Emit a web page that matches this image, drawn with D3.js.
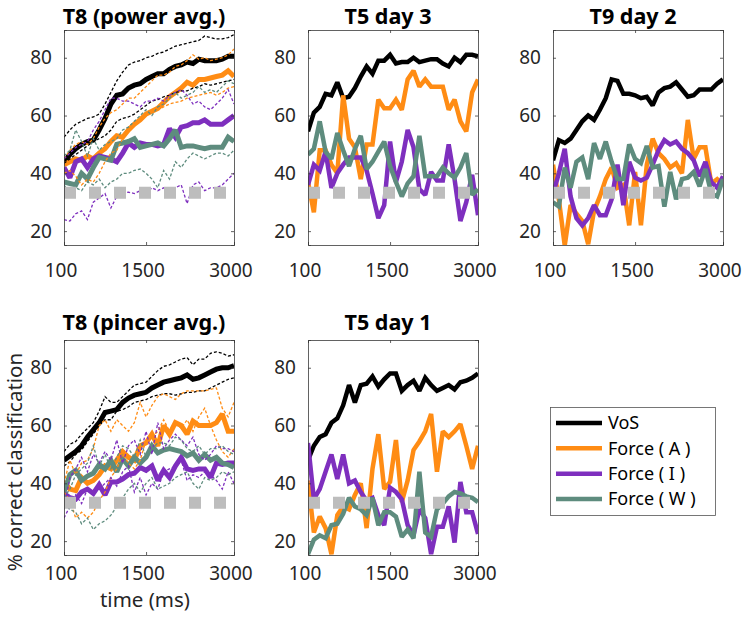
<!DOCTYPE html>
<html>
<head>
<meta charset="utf-8">
<script src="https://cdn.jsdelivr.net/npm/d3@7"></script>
<style>
  body { margin: 0; background: #fff; }
  svg { display: block; font-family: "Noto Sans", "Open Sans", sans-serif; }
</style>
</head>
<body>
<svg id="chart" width="745" height="623"></svg>
<script>
// ---------------- DATA ----------------
const times = [100,200,300,400,500,600,700,800,900,1000,1100,1200,1300,1400,1500,1600,1700,1800,1900,2000,2100,2200,2300,2400,2500,2600,2700,2800,2900,3000];
const xTickValues = [100, 1500, 3000];
const yTickValues = [20, 40, 60, 80];
const seriesNames = ["VoS", "Force ( A )", "Force ( I )", "Force ( W )"];
const panelTitles = ["T8 (power avg.)", "T5 day 3", "T9 day 2", "T8 (pincer avg.)", "T5 day 1"];
const chanceLevel = 33.3;

// Panel 1: T8 (power avg.) — averages
const p1Vos = [44,46.5,48.5,50,51,51.5,55,59,64,67,67.5,69.5,70.5,71,72.5,73.5,74.5,74.5,76,77,77.5,78.5,78,79.5,79,79,79,79.5,80.5,80.5];
const p1ForceA = [43,44,45,44.5,46,45,47,48.5,51,53,52.5,55,57,58.5,60.5,61.5,62.5,64.5,66.5,68,69.5,71.5,70.5,72.5,72.5,73,73.5,74,75.5,73.5];
const p1ForceI = [42,38.5,44,45,42,45,46,45.5,45,44,47,50.5,49,50.5,50,50,49.5,50,55.5,52.5,56,56.5,57.5,57.5,58.5,57,57,57,58.5,60];
const p1ForceW = [37,36.5,36,40,38,42,45.5,45,44.5,50,50.5,51,52,49,49.5,50,50.5,49.5,52,55,49,49.5,49.5,49,48.5,49,49,49,52.5,51];
// Panel 1: individual sessions (dotted)
const p1VosS1 = [52.5,55,57,58,59,59.5,60.5,64,68,72,75,77.5,78.5,79,80,80.5,81.5,82,83,84,84.5,85,85.5,86,87.5,87,86.5,86.5,87,88];
const p1VosS2 = [43.5,45,46.5,48,49.5,51,52,53,55,58,59,59.5,60.5,62,63.5,65,65.5,66.5,67,68,68.5,68.5,69.5,70,71,70.5,71,71.5,72,72.5];
const p1ForceAS1 = [45,48,50,51,50,52,56,59,61,62,64,66,66,68,70,72,74,74,75,77,77.5,79,81,79.5,80,79,79.5,80,81,83];
const p1ForceAS2 = [40,41,39,36,38,37,40,44,47,48,52,56,57,58,60,61,62,63,64,64.5,65,66,66.5,67,67.5,68,67,68,69.5,70];
const p1ForceIS1 = [45,47,49,50,51,55,58,62,66,66,65,65,64,63,65,65,66,65,67,68,69,67,64,65,63,62,64,66,69,64];
const p1ForceIS2 = [24,23.5,26,27,24,30,31.5,33,28,32,33,33.5,33,34,33,35,34,35,33,35,36,29.5,36,37,34,35,35,36,38,40];
const p1ForceWS1 = [46,48,55,51,46,52,48,50,51,52,55,56,58,60,62,60,63,64,66,68,66,67,68,70,68,69,68,70,72,71];
const p1ForceWS2 = [36,33,35,34,37,36,38,35,37,38,40,40,41,41.5,40,38,35,41,38,44,42,45,47,46,45,46,47,47,46,48];

// Panel 2: T5 day 3
const p2Vos = [54.5,61,63,67.5,67,71.5,66,66.5,69.5,73.5,77,74.5,79,79,81,78,78.5,78.5,80,78.5,79,79.5,79.5,78,77,80,78.5,81,81,80.5];
const p2ForceA = [37,26.5,48,48,43,40,67,52,49,38,50,50,65.5,62.5,62.5,65.5,62,72.5,75.5,70,72.5,70,70,70,62,65.5,58,54.5,68,72.5];
const p2ForceI = [36,43,41,47.5,35,40,43,45.5,45.5,45.5,41,33,24.5,29,51,37,44,55,49,34.5,32.5,40.5,37.5,37.5,50,38,23.5,30,39.5,25.5];
const p2ForceW = [46.5,48.5,58,47.5,45,54,48,42.5,48.5,53,41.5,44,47.5,51,42.5,37,32,36.5,39,53,39,39,39,42,40,38.5,42,47,32.5,34.5];

// Panel 3: T9 day 2
const p3Vos = [44.5,51.5,50.5,52,55,58,60,58.5,62,66,72.5,72,67.5,67.5,67,66,66.5,63.5,68,69.5,70,71.5,69,66.5,67,69,69,69,71,72.5];
const p3ForceA = [43,31,15,29,26,23.5,15.5,27,32,38,42,35,36,22,40.5,22,43,52,47,45,42,43.5,40,58.5,45,49,49,36.5,38,36];
const p3ForceI = [33,40,48.5,32,24.5,22,24.5,29,25.5,25.5,31,43,29,44,38.5,37.5,38.5,43,48,51.5,50,51,48.5,47,44.5,39,44,37,35,39];
const p3ForceW = [30,28.5,42,35,44,45.5,38,50.5,45,51,44,38,38,50,45,43.5,49.5,42,42.5,28.5,40.5,31,38,38.5,40.5,35.5,41.5,33,32,38];

// Panel 4: T8 (pincer avg.) — averages
const p4Vos = [48,49.5,51,53,56,58.5,61,64.5,65,65.5,68,69.5,70.5,71,71.5,73,74,75,75.5,76,76.5,77.5,76,76.5,77.5,78.5,79.5,80,80,80.7];
const p4ForceA = [40.5,38,37.5,42,40,41,43,46,45,48,51,49,48,53,54,57,53,60,57,61,60,57,61.5,60,60,60,61,64,58,58];
const p4ForceI = [36.5,35,34.5,37,38,36.5,39.5,36,40.5,40.5,41.5,43,43.5,45.5,44.5,46,41,44.5,42,46,49,45,44.5,45,45,42,47,46.5,47,47];
const p4ForceW = [37,43,44.5,41,42.5,43.5,46.5,45,48,44,48.5,46,49,47,49,53,50.5,51.5,52,51.5,51,49.5,50.5,48,50,48,49,47,46.5,45.5];
// Panel 4: individual sessions (dotted)
const p4VosS1 = [51,53.5,54.5,57,59,61,65,70,68,68,70,72,74,74.5,75,77,79,80.5,81,82,83,83.5,81,83,83,85,85.5,85,84,84.5];
const p4VosS2 = [46,47.5,50,51.5,54.5,57,60,62,62,65,65.5,66.5,68,68.5,69,70,70.5,71,71,70.5,71,71.5,71.5,72,72,73,74,75,76,76.5];
const p4ForceAS1 = [40,48,43,47,48,52,60,62,58,62,60,58,61,68,63,67,70,71,70,69,71,72,72,72,72,72.5,73,66,63,68];
const p4ForceAS2 = [37,34,28,30,28,30,34,37,42,45,50,47,45,48,55,56,58,62,58,61,59,62,58,63,66,60,55,51,49,52];
const p4ForceIS1 = [31,42,45,49,44,50,47,51,48,55,47,53,55,50,58,50,61,52,55,57,55,53,56,50,48,50,53,52,52,51];
const p4ForceIS2 = [28,32,36,33,38,37,38,40,42,39,44,46,37,42,36,40,38,44,45,46,48,41,43,42,44,43,41,38,44,40];
const p4ForceWS1 = [35,38,43,45,47,53,46,50,45,49,53,52,49,55,49,52,54,54,53,56,55,52,51,53,50,52,52,53,51,50];
const p4ForceWS2 = [33,31,30,26,28,24,26,27,29,32,35,38,40,37,40,42,38,39,40,42,43,44,40,38,42,41,42,44,43,44];

// Panel 5: T5 day 1
const p5Vos = [48,53,56,57,61,62.5,67,74,68,74,74.5,77,73.5,76,78,78,72,74,75.5,72,76.5,74,72,73,74,72.5,75,75.5,76.5,78];
const p5ForceA = [41,23,28.5,24.5,15.5,29,32,31,36,40,24.5,45,57,38,40.5,55,33.5,41,51.5,54.5,58,64,44,58,56,58,60.5,53,45,53];
const p5ForceI = [54,34.5,38,44,50,41.5,50,40,41,37,34,35,29,25.5,38.5,37,34.5,25.5,22,31,28,15.5,25,25,32,19.5,40.5,30,30,22.5];
const p5ForceW = [15.5,20.5,22,21,25.5,26,29.5,35,32,31,29,35,25.5,30,30,28.5,21.5,24,21,44,23,21.5,31,33,35.5,37,36.5,35.5,35,33.5];

// ---------------- STYLE / LAYOUT ----------------
const seriesColors = ["#000000", "#ff8c14", "#7e2fbe", "#5e8c7e"];
const chanceColor = "#bdbdbd";
const yDomain = [15.2, 89.6];

const panels = [
  { title: panelTitles[0], box: [64, 30, 234, 245], main: [p1Vos, p1ForceA, p1ForceI, p1ForceW],
    sessions: [[p1VosS1, p1VosS2], [p1ForceAS1, p1ForceAS2], [p1ForceIS1, p1ForceIS2], [p1ForceWS1, p1ForceWS2]], thick: 5, titleY: 23.5, tickLabelY: 277 },
  { title: panelTitles[1], box: [308, 30, 478, 245], main: [p2Vos, p2ForceA, p2ForceI, p2ForceW], sessions: null, thick: 4.5, titleY: 23.5, tickLabelY: 277 },
  { title: panelTitles[2], box: [553, 30, 723, 245], main: [p3Vos, p3ForceA, p3ForceI, p3ForceW], sessions: null, thick: 4.5, titleY: 23.5, tickLabelY: 277 },
  { title: panelTitles[3], box: [64, 340, 234, 555], main: [p4Vos, p4ForceA, p4ForceI, p4ForceW],
    sessions: [[p4VosS1, p4VosS2], [p4ForceAS1, p4ForceAS2], [p4ForceIS1, p4ForceIS2], [p4ForceWS1, p4ForceWS2]], thick: 5, titleY: 330, tickLabelY: 580 },
  { title: panelTitles[4], box: [308, 340, 478, 555], main: [p5Vos, p5ForceA, p5ForceI, p5ForceW], sessions: null, thick: 4.5, titleY: 330, tickLabelY: 580 }
];

const svg = d3.select("#chart");
const axisColor = "#3a3a3a";

panels.forEach((p, pi) => {
  const [x0, y0, x1, y1] = p.box;
  const x = d3.scaleLinear().domain([times[0], times[times.length - 1]]).range([x0, x1]);
  const y = d3.scaleLinear().domain(yDomain).range([y1, y0]);
  const g = svg.append("g");

  const clipId = "clip" + pi;
  svg.append("clipPath").attr("id", clipId)
    .append("rect").attr("x", x0).attr("y", y0).attr("width", x1 - x0).attr("height", y1 - y0);

  const plot = g.append("g").attr("clip-path", `url(#${clipId})`);
  const line = d3.line().x((d, i) => x(times[i])).y(d => y(d));

  // thick averaged lines
  p.main.forEach((vals, si) => {
    plot.append("path").datum(vals)
      .attr("d", line)
      .attr("fill", "none")
      .attr("stroke", seriesColors[si])
      .attr("stroke-width", p.thick)
      .attr("stroke-linejoin", "miter")
      .attr("stroke-miterlimit", 2);
  });

  // dotted individual sessions
  if (p.sessions) {
    p.sessions.forEach((pair, si) => {
      pair.forEach(vals => {
        plot.append("path").datum(vals)
          .attr("d", line)
          .attr("fill", "none")
          .attr("stroke", seriesColors[si])
          .attr("stroke-width", 1.3)
          .attr("stroke-dasharray", "3,2");
      });
    });
  }

  // chance level
  plot.append("line")
    .attr("x1", x0).attr("x2", x1)
    .attr("y1", y(chanceLevel)).attr("y2", y(chanceLevel))
    .attr("stroke", chanceColor)
    .attr("stroke-width", 12)
    .attr("stroke-dasharray", "12,13");

  // axes (inward ticks, box)
  const tl = 3;
  const axL = d3.axisLeft(y).tickValues(yTickValues).tickSize(-tl).tickPadding(12).tickFormat(d3.format("d"));
  const axR = d3.axisRight(y).tickValues(yTickValues).tickSize(-tl).tickFormat("");
  const axB = d3.axisBottom(x).tickValues(xTickValues).tickSize(-tl).tickFormat("");
  const axT = d3.axisTop(x).tickValues(xTickValues).tickSize(-tl).tickFormat("");

  const gl = g.append("g").attr("transform", `translate(${x0},0)`).call(axL);
  g.append("g").attr("transform", `translate(${x1},0)`).call(axR);
  g.append("g").attr("transform", `translate(0,${y1})`).call(axB);
  g.append("g").attr("transform", `translate(0,${y0})`).call(axT);
  g.selectAll(".domain").attr("stroke", axisColor).attr("stroke-width", 0.8);
  g.selectAll(".tick line").attr("stroke", axisColor).attr("stroke-width", 0.8);
  gl.selectAll(".tick text").attr("font-size", 19).attr("fill", "#262626")
    .attr("font-family", "Noto Sans, sans-serif");

  // x tick labels
  g.selectAll(".xlab").data(xTickValues).enter().append("text")
    .attr("x", d => x(d) - 3)
    .attr("y", p.tickLabelY)
    .attr("text-anchor", "middle")
    .attr("font-size", 19)
    .attr("fill", "#262626")
    .text(d => d);

  // title
  g.append("text")
    .attr("x", (x0 + x1) / 2 - 5)
    .attr("y", p.titleY)
    .attr("text-anchor", "middle")
    .attr("font-size", 21.5)
    .attr("font-weight", "bold")
    .attr("fill", "#000")
    .text(p.title);
});

// axis labels
svg.append("text")
  .attr("transform", "translate(22,462) rotate(-90)")
  .attr("text-anchor", "middle")
  .attr("font-size", 20.5)
  .attr("fill", "#262626")
  .text("% correct classification");

svg.append("text")
  .attr("x", 145).attr("y", 607)
  .attr("text-anchor", "middle")
  .attr("font-size", 20.5)
  .attr("fill", "#262626")
  .text("time (ms)");

// legend
const lg = svg.append("g");
lg.append("rect").attr("x", 550.5).attr("y", 407.5).attr("width", 165).attr("height", 108)
  .attr("fill", "#fff").attr("stroke", "#555").attr("stroke-width", 0.8);
const rowY = d3.scalePoint().domain(seriesNames).range([423, 499]);
seriesNames.forEach((name, i) => {
  lg.append("line").attr("x1", 556).attr("x2", 602)
    .attr("y1", rowY(name)).attr("y2", rowY(name))
    .attr("stroke", seriesColors[i]).attr("stroke-width", 4.5);
  lg.append("text").attr("x", 608).attr("y", rowY(name)).attr("dy", "0.36em")
    .attr("font-size", 18).attr("fill", "#000").text(name);
});
</script>
</body>
</html>
